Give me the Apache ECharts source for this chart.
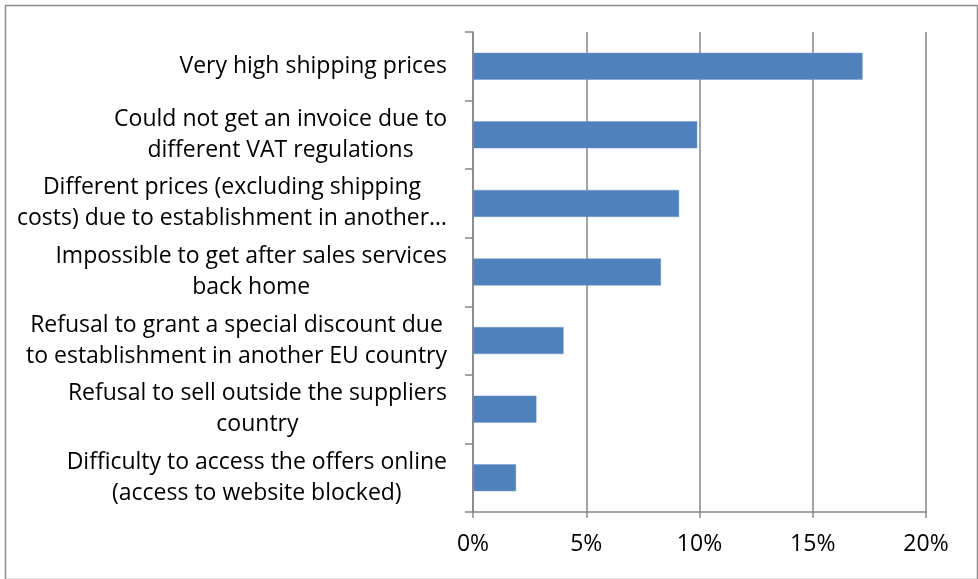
<!DOCTYPE html>
<html><head><meta charset="utf-8">
<script src="https://cdn.jsdelivr.net/npm/echarts@6/dist/echarts.min.js"></script>
<style>html,body{margin:0;padding:0;background:#fff}#c{width:978px;height:579px}</style>
</head><body><div id="c"></div>
<script>
const categories = [
  "Very high shipping prices",
  "Could not get an invoice due to\ndifferent VAT regulations",
  "Different prices (excluding shipping\ncosts) due to establishment in another…",
  "Impossible to get after sales services\nback home",
  "Refusal to grant a special discount due\nto establishment in another EU country",
  "Refusal to sell outside the suppliers\ncountry",
  "Difficulty to access the offers online\n(access to website blocked)"
];
const values = [17.2, 9.9, 9.1, 8.3, 4.0, 2.8, 1.9];
const xTicks = [0, 5, 10, 15, 20];

const FONT = "Open Sans";
const FS = 23;
const chart = echarts.init(document.getElementById('c'), null, {renderer: 'canvas'});
chart.setOption({
  animation: false,
  backgroundColor: '#fff',
  graphic: [{
    type: 'rect', left: 3, top: 3, silent: true,
    shape: {width: 972, height: 574},
    style: {fill: 'none', stroke: '#8c8c8c', lineWidth: 1.5}
  }],
  grid: {left: 473, right: 52, top: 32, bottom: 67, containLabel: false},
  xAxis: {
    type: 'value', min: xTicks[0], max: xTicks[xTicks.length - 1], interval: 5,
    axisLine: {show: true, lineStyle: {color: '#868686', width: 1.5}},
    axisTick: {show: true, length: 6, lineStyle: {color: '#868686', width: 1.5}},
    splitLine: {show: true, lineStyle: {color: '#868686', width: 1.5}},
    axisLabel: {formatter: v => v + '%', color: '#000', fontFamily: FONT, fontSize: FS, margin: 21}
  },
  yAxis: {
    type: 'category', inverse: true, data: categories,
    axisLine: {show: true, lineStyle: {color: '#868686', width: 1.5}},
    axisTick: {show: true, length: 8, alignWithLabel: false, lineStyle: {color: '#868686', width: 1.5}},
    splitLine: {show: false},
    axisLabel: {
      margin: 26, align: 'right',
      fontFamily: FONT, fontSize: FS, color: '#000', lineHeight: 31,
      formatter: v => v.split('\n').map(l => '{c|' + l + '}').join('\n'),
      rich: {c: {align: 'center', fontFamily: FONT, fontSize: FS, color: '#000', lineHeight: 31}}
    }
  },
  series: [{
    type: 'bar', data: values, barWidth: 27,
    itemStyle: {color: '#4F81BD', borderColor: '#6E97C8', borderWidth: 0.5}
  }]
});
</script></body></html>
